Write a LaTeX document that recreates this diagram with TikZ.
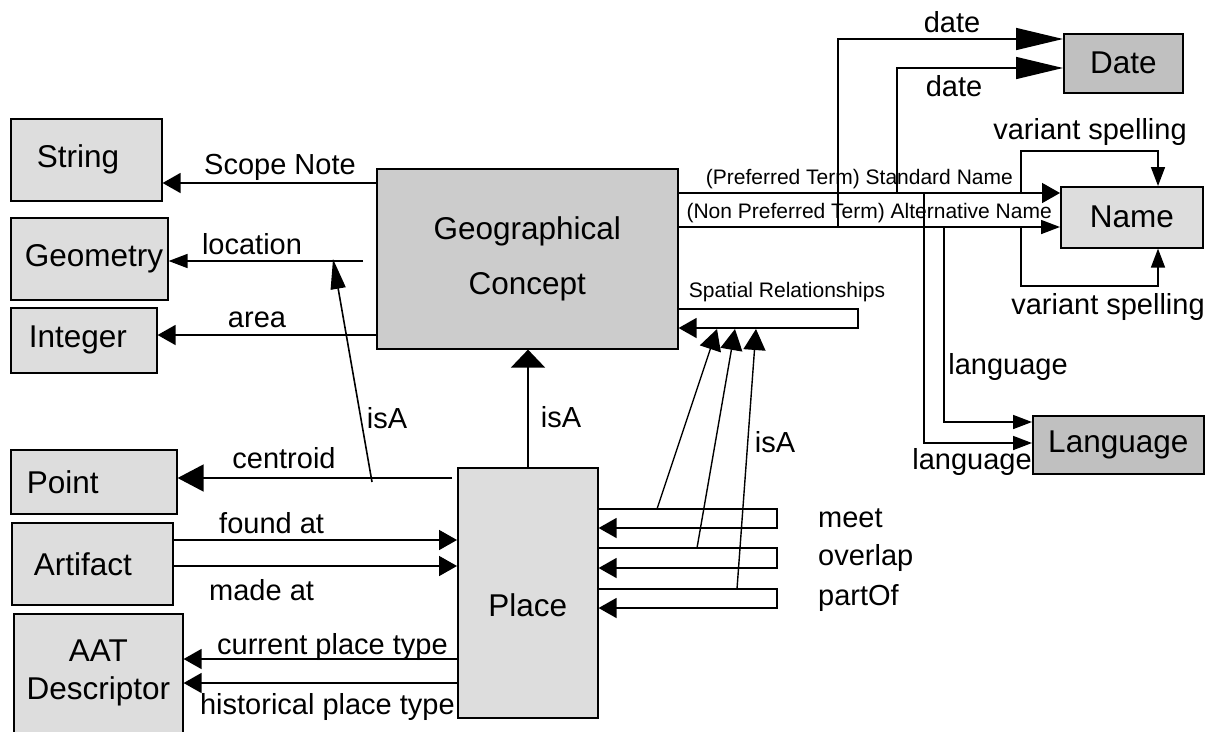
\documentclass[tikz,border=0pt]{standalone}
\usepackage{fontspec}
\setmainfont{Liberation Sans}
\usetikzlibrary{arrows.meta,calc}
\definecolor{boxgray}{HTML}{DDDDDD}
\definecolor{conceptgray}{HTML}{CCCCCC}
\definecolor{termgray}{HTML}{C0C0C0}
\newcommand{\classtext}[2]{\makebox[#1][l]{#2}}
\tikzset{
  cls/.style={draw, line width=1.6pt, fill=boxgray, anchor=north west, inner ysep=0pt,
    font=\fontsize{31.5}{38}\selectfont},
  leftcls/.style={cls, inner xsep=16pt},
  lbl/.style={inner sep=0pt, font=\fontsize{29}{34}\selectfont},
  smalllbl/.style={inner sep=0pt, font=\fontsize{21}{25}\selectfont},
  conn/.style={line width=1.6pt},
  rel/.style={conn, -{Triangle[length=18pt,width=20pt]}},
  relthin/.style={conn, -{Triangle[length=19pt,width=14pt]}},
  rellong/.style={conn, -{Triangle[length=47pt,width=22pt]}},
  relwide/.style={conn, -{Triangle[length=18pt,width=34pt]}},
  relslim/.style={conn, -{Triangle[length=30pt,width=15pt]}},
  relbig/.style={conn, -{Triangle[length=26pt,width=27pt]}},
  relmid/.style={line width=1.4pt, -{Triangle[length=21pt,width=22pt]}}
}
\begin{document}
\begin{tikzpicture}[x=1pt,y=-1pt]
                \useasboundingbox (0,0) rectangle (1215,731);
                \node[leftcls, inner xsep=26pt, minimum height=82pt] (string) at (10,118) {\classtext{99pt}{String}};
                \node[leftcls, inner xsep=14pt, minimum height=82pt] (geometry) at (10,217) {\classtext{129pt}{Geometry}};
                \node[leftcls, inner xsep=18pt, minimum height=65pt] (integer) at (10,307) {\classtext{110pt}{Integer}};
                \node[leftcls, minimum height=64pt] (point) at (10,449) {\classtext{134pt}{Point}};
                \node[leftcls, inner xsep=22pt, minimum height=82pt] (artifact) at (11,522) {\classtext{117pt}{Artifact}};
                \node[cls, align=center, minimum width=169pt, minimum height=119pt] (aat) at (13,613) {AAT\\Descriptor};
                \node[cls, fill=conceptgray, align=center, minimum width=301pt, minimum height=180pt,
                    font=\fontsize{31.5}{55}\selectfont] (concept) at (376,168) {Geographical\\Concept};
                \node[cls, minimum width=140pt, text height=149pt, text depth=101pt] (place) at (457,467) {Place};
                \node[cls, fill=termgray, minimum width=119pt, minimum height=59pt] (date) at (1063,33) {Date};
                \node[cls, minimum width=142pt, minimum height=61pt] (name) at (1060,186) {Name};
                \node[cls, fill=termgray, minimum width=171pt, minimum height=58pt] (language) at (1032,415) {Language};

                \coordinate (locStart) at (363,261);
                \coordinate (cenStart) at (452,478);
                \coordinate (isaFoot) at (372,482);
                \coordinate (isaHead) at (333,259);
                \draw[rel] (concept.west |- 0,183) -- (string.east |- 0,183);
                \draw[relthin] (locStart) -- (geometry.east |- locStart);
                \draw[rel] (concept.west |- 0,335) -- (integer.east |- 0,335);
                \draw[relbig] (cenStart) -- (point.east |- cenStart);
                \draw[relslim] (isaFoot) -- (isaHead);
                \draw[rel] (artifact.east |- 0,540) -- (place.west |- 0,540);
                \draw[rel] (artifact.east |- 0,566) -- (place.west |- 0,566);
                \draw[rel] (place.west |- 0,659) -- (aat.east |- 0,659);
                \draw[rel] (place.west |- 0,683) -- (aat.east |- 0,683);
                \draw[relwide] (place.north -| 528,0) -- (concept.south -| 528,0);

                \draw[rel] (concept.east |- 0,309) -| (858,328) -- (concept.east |- 0,328);
                \draw[rel] (place.east |- 0,509) -| (777,528) -- (place.east |- 0,528);
                \draw[rel] (place.east |- 0,548) -| (777,568) -- (place.east |- 0,568);
                \draw[rel] (place.east |- 0,589) -| (777,608) -- (place.east |- 0,608);
                \coordinate (meetFoot) at (657,509);
                \coordinate (overlapFoot) at (697,548);
                \coordinate (partFoot) at (737,589);
                \coordinate (meetHead) at (717,329);
                \coordinate (overlapHead) at (735,329);
                \coordinate (partHead) at (756,329);
                \draw[relmid] (meetFoot) -- (meetHead);
                \draw[relmid] (overlapFoot) -- (overlapHead);
                \draw[relmid] (partFoot) -- (partHead);

                \coordinate (dateFootA) at (838,227);
                \coordinate (dateFootB) at (897,193);
                \coordinate (spellFootA) at (1021,193);
                \coordinate (spellFootB) at (1021,227);
                \coordinate (langFootA) at (924,193);
                \coordinate (langFootB) at (944,227);
                \draw[rel] (concept.east |- 0,193) -- (name.west |- 0,193);
                \draw[relthin] (concept.east |- 0,227) -- (name.west |- 0,227);
                \draw[rellong] (dateFootA) |- (date.west |- 0,39);
                \draw[rellong] (dateFootB) |- (date.west |- 0,68);
                \draw[relthin] (spellFootA) |- (1158,151) -- (name.north -| 1158,0);
                \draw[relthin] (spellFootB) |- (1158,286) -- (name.south -| 1158,0);
                \draw[relthin] (langFootA) |- (language.west |- 0,443);
                \draw[relthin] (langFootB) |- (language.west |- 0,422);

                \node[lbl] (lScope) at (280,167) {Scope Note};
                \node[lbl] (lLocation) at (252,244) {location};
                \node[lbl] (lArea) at (257,320) {area};
                \node[lbl] (lIsaLeft) at (387,418) {isA};
                \node[lbl] (lCentroid) at (284,458) {centroid};
                \node[lbl, anchor=west] (lFound) at (219,523) {found at};
                \node[lbl, anchor=west] (lMade) at (209,590) {made at};
                \node[lbl, anchor=west] (lCurrent) at (217,647) {current place type};
                \node[lbl, anchor=east] (lHistorical) at (455,707) {historical place type};
                \node[lbl] (lIsaMid) at (561,417) {isA};
                \node[lbl] (lIsaRight) at (775,442) {isA};
                \node[smalllbl] (lSpatial) at (787,292) {Spatial Relationships};
                \node[lbl, anchor=west] (lMeet) at (818,518) {meet};
                \node[lbl, anchor=west] (lOverlap) at (818,558) {overlap};
                \node[lbl, anchor=west] (lPartOf) at (818,598) {partOf};
                \node[smalllbl, anchor=east] (lStandard) at (1013,179) {(Preferred Term) Standard Name};
                \node[smalllbl, anchor=east] (lAlternative) at (1052,213) {(Non Preferred Term) Alternative Name};
                \node[lbl] (lDateA) at (952,22) {date};
                \node[lbl] (lDateB) at (954,86) {date};
                \node[lbl] (lSpellA) at (1090,132) {variant spelling};
                \node[lbl] (lSpellB) at (1108,307) {variant spelling};
                \node[lbl] (lLangA) at (1008,367) {language};
                \node[lbl] (lLangB) at (972,462) {language};
            \end{tikzpicture}
\end{document}
